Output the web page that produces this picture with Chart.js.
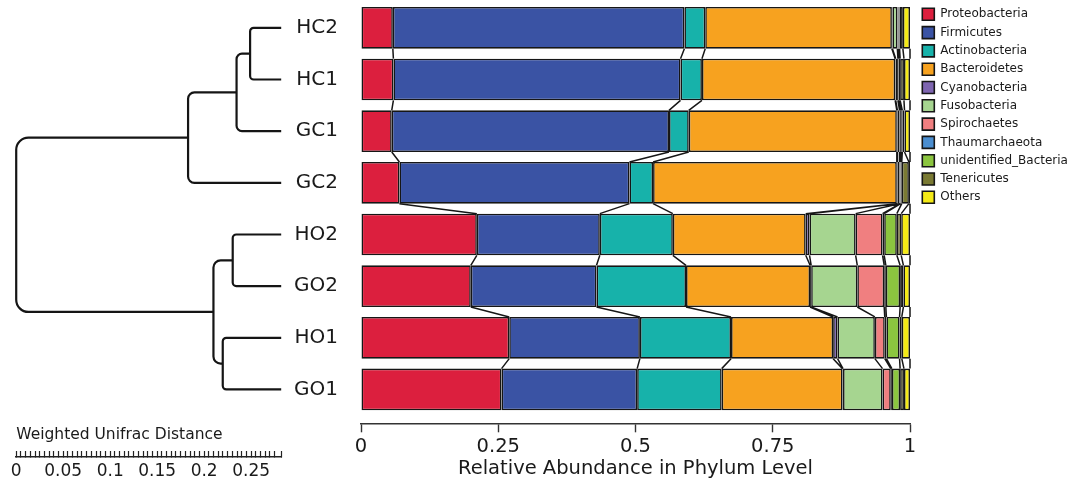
<!DOCTYPE html>
<html>
<head>
<meta charset="utf-8">
<title>Relative Abundance in Phylum Level</title>
<script src="https://cdn.jsdelivr.net/npm/chart.js@4/dist/chart.umd.min.js"></script>
<style>
  html, body { margin: 0; padding: 0; background: #fff; overflow: hidden; }
  #wrap { position: relative; width: 1073px; height: 484px; overflow: hidden; }
  #bars, #tree { position: absolute; left: 0; top: 0; }
</style>
</head>
<body>
<div id="wrap">
  <canvas id="bars" width="1073" height="484"></canvas>
  <canvas id="tree" width="292" height="500"></canvas>
</div>
<script>
// Samples, top to bottom (leaf order of the clustering tree)
const samples = ['HC2', 'HC1', 'GC1', 'GC2', 'HO2', 'GO2', 'HO1', 'GO1'];

// Phyla in stacking / legend order
const phyla = ['Proteobacteria', 'Firmicutes', 'Actinobacteria', 'Bacteroidetes', 'Cyanobacteria',
  'Fusobacteria', 'Spirochaetes', 'Thaumarchaeota', 'unidentified_Bacteria', 'Tenericutes', 'Others'];
const phylumColors = ['#dc1f3e', '#3a53a4', '#17b2aa', '#f7a21f', '#7e65b0',
  '#a6d590', '#f07f80', '#4b8ed0', '#8bc53f', '#7a7a33', '#f4ea16'];

// Relative abundance per phylum, one value per sample (same order as samples)
const proteobacteria = [0.058, 0.059, 0.056, 0.070, 0.211, 0.200, 0.270, 0.256];
const firmicutes     = [0.531, 0.523, 0.505, 0.419, 0.224, 0.229, 0.238, 0.247];
const actinobacteria = [0.038, 0.039, 0.036, 0.043, 0.133, 0.163, 0.166, 0.154];
const bacteroidetes  = [0.340, 0.352, 0.379, 0.444, 0.242, 0.226, 0.186, 0.220];
const cyanobacteria  = [0.001, 0.001, 0.001, 0.001, 0.007, 0.002, 0.008, 0.001];
const fusobacteria   = [0.009, 0.004, 0.004, 0.004, 0.084, 0.084, 0.068, 0.072];
const spirochaetes   = [0.001, 0.001, 0.001, 0.001, 0.049, 0.049, 0.018, 0.015];
const thaumarchaeota = [0.001, 0.001, 0.002, 0.001, 0.003, 0.003, 0.003, 0.002];
const unidentifiedBacteria = [0.002, 0.002, 0.002, 0.002, 0.023, 0.026, 0.024, 0.015];
const tenericutes    = [0.006, 0.007, 0.004, 0.013, 0.008, 0.006, 0.004, 0.007];
const others         = [0.013, 0.011, 0.010, 0.002, 0.016, 0.012, 0.015, 0.011];

const abundance = [proteobacteria, firmicutes, actinobacteria, bacteroidetes, cyanobacteria,
  fusobacteria, spirochaetes, thaumarchaeota, unidentifiedBacteria, tenericutes, others];

// Abundance axis ticks
const abundanceTicks = [0, 0.25, 0.5, 0.75, 1];

// Hierarchical clustering (Weighted UniFrac): merge k joins two clusters at a height;
// merged clusters are referred to as m1, m2, ... in merge order
const mergeLeft   = ['HC2', 'm1', 'm2', 'HO2', 'HO1', 'm4', 'm3'];
const mergeRight  = ['HC1', 'GC1', 'GC2', 'GO2', 'GO1', 'm5', 'm6'];
const mergeHeight = [0.0331, 0.0475, 0.0991, 0.0516, 0.0622, 0.0721, 0.282];
const rootHeight = mergeHeight[mergeHeight.length - 1];

// Distance ruler
const rulerStep = 0.005;
const rulerLabelStep = 0.05;

Chart.defaults.font.family = '"DejaVu Sans", Verdana, sans-serif';
Chart.defaults.color = '#1a1a1a';

const INK = '#161616';

// Keep the legend column a fixed width and nudge it away from the plot edge
const LEGEND_WIDTH = 163;
const LEGEND_INSET = 6;
const legendColumn = {
  id: 'legendColumn',
  beforeLayout(chart) {
    const legend = chart.legend;
    if (legend && !legend.$fixedWidth) {
      const fit = legend.fit;
      legend.fit = function () { fit.call(this); this.width = LEGEND_WIDTH; };
      legend.$fixedWidth = true;
    }
  },
  afterLayout(chart) {
    if (chart.legend) { chart.legend.left += LEGEND_INSET; chart.legend.right += LEGEND_INSET; }
  }
};

// Lines joining each segment boundary of a bar to the same boundary of the next bar
const flowLinks = {
  id: 'flowLinks',
  afterDatasetsDraw(chart) {
    const ctx = chart.ctx;
    const metas = chart.data.datasets.map((_, d) => chart.getDatasetMeta(d));
    ctx.save();
    ctx.strokeStyle = INK;
    ctx.lineWidth = 1.5;
    for (let i = 0; i < samples.length - 1; i++) {
      ctx.beginPath();
      metas.forEach(meta => {
        const a = meta.data[i], b = meta.data[i + 1];
        ctx.moveTo(a.x, a.y + a.height / 2);
        ctx.lineTo(b.x, b.y - b.height / 2);
      });
      ctx.stroke();
    }
    ctx.restore();
  }
};

const mainChart = new Chart(document.getElementById('bars'), {
  type: 'bar',
  data: {
    datasets: phyla.map((name, d) => ({
      label: name,
      data: abundance[d].map((v, i) => ({ x: v, y: i })),
      backgroundColor: phylumColors[d],
      borderColor: INK,
      borderWidth: 1.6,
      borderSkipped: false,
      grouped: false,
      barPercentage: 0.807,
      categoryPercentage: 1
    }))
  },
  options: {
    indexAxis: 'y',
    responsive: false,
    animation: false,
    events: [],
    layout: { padding: { top: 2, bottom: 3.3, left: 0, right: 0 } },
    scales: {
      x: {
        type: 'linear',
        stacked: true,
        min: 0,
        max: 1,
        afterBuildTicks(scale) { scale.ticks = abundanceTicks.map(v => ({ value: v })); },
        grid: { display: true, drawOnChartArea: false, drawTicks: true, tickLength: 9, tickColor: '#333', tickWidth: 1.4 },
        border: { display: true, color: '#333', width: 1.4 },
        ticks: { padding: 3.3, maxRotation: 0, autoSkip: false, font: { size: 19.5 }, color: '#1a1a1a', callback: v => String(v) },
        title: { display: true, text: 'Relative Abundance in Phylum Level', font: { size: 19.5 }, color: '#1a1a1a', padding: { top: -5, bottom: 0 } }
      },
      y: {
        type: 'linear',
        reverse: true,
        offset: false,
        min: -0.5,
        max: 7.655,
        afterBuildTicks(scale) { scale.ticks = samples.map((_, i) => ({ value: i })); },
        afterFit(scale) { scale.width = 361; scale.paddingTop = 0; scale.paddingBottom = 0; },
        grid: { display: false, drawTicks: false, offset: false },
        border: { display: false },
        ticks: { padding: 23, autoSkip: false, font: { size: 20 }, color: '#1a1a1a', callback: v => samples[v] }
      }
    },
    plugins: {
      tooltip: { enabled: false },
      legend: {
        position: 'right',
        align: 'start',
        labels: { boxWidth: 12, boxHeight: 12, padding: 6.3, font: { size: 12 }, color: '#1a1a1a' }
      }
    }
  },
  plugins: [legendColumn, flowLinks]
});

// Clustering tree drawn with the ruler scale (x) and the sample rows of the bar chart (y)
const dendrogram = {
  id: 'dendrogram',
  afterDraw(chart) {
    const ctx = chart.ctx;
    const xs = chart.scales.x;
    const ys = mainChart.scales.y;
    const pos = {};
    samples.forEach((s, i) => { pos[s] = { x: xs.getPixelForValue(rootHeight), y: ys.getPixelForValue(i) }; });
    ctx.save();
    ctx.strokeStyle = '#151515';
    ctx.lineWidth = 2.2;
    ctx.lineJoin = 'round';
    mergeHeight.forEach((h, k) => {
      const a = pos[mergeLeft[k]], b = pos[mergeRight[k]];
      const top = a.y < b.y ? a : b, bot = a.y < b.y ? b : a;
      const xn = xs.getPixelForValue(rootHeight - h);
      const r = Math.max(0, Math.min((bot.y - top.y) * 0.07, top.x - xn, bot.x - xn));
      ctx.beginPath();
      ctx.moveTo(top.x, top.y);
      ctx.lineTo(xn + r, top.y);
      ctx.arcTo(xn, top.y, xn, top.y + r, r);
      ctx.lineTo(xn, bot.y - r);
      ctx.arcTo(xn, bot.y, xn + r, bot.y, r);
      ctx.lineTo(bot.x, bot.y);
      ctx.stroke();
      pos['m' + (k + 1)] = { x: xn, y: (top.y + bot.y) / 2 };
    });
    // ruler caption
    ctx.fillStyle = '#1a1a1a';
    ctx.font = '15.5px "DejaVu Sans", Verdana, sans-serif';
    ctx.textAlign = 'left';
    ctx.textBaseline = 'middle';
    ctx.fillText('Weighted Unifrac Distance', xs.left, xs.top - 22);
    ctx.restore();
  }
};

const isRulerLabel = v => Math.abs(v / rulerLabelStep - Math.round(v / rulerLabelStep)) < 1e-6;

new Chart(document.getElementById('tree'), {
  type: 'scatter',
  data: { datasets: [] },
  options: {
    responsive: false,
    animation: false,
    events: [],
    layout: { padding: { left: 12.3, right: 4.7, top: 2, bottom: 7 } },
    plugins: { legend: { display: false }, tooltip: { enabled: false } },
    scales: {
      x: {
        type: 'linear',
        position: 'bottom',
        min: 0,
        max: rootHeight,
        grid: { display: true, drawOnChartArea: false, drawTicks: true, tickLength: -6, tickColor: '#222', tickWidth: 1.2 },
        border: { display: true, color: '#222', width: 1.5 },
        ticks: {
          stepSize: rulerStep,
          maxTicksLimit: 1000,
          autoSkip: false,
          maxRotation: 0,
          padding: 10.8,
          font: { size: 17 },
          color: '#1a1a1a',
          callback: v => isRulerLabel(v) ? String(Math.round(v * 100) / 100) : ''
        }
      },
      y: { display: false, min: 0, max: 1 }
    }
  },
  plugins: [dendrogram]
});
</script>
</body>
</html>
